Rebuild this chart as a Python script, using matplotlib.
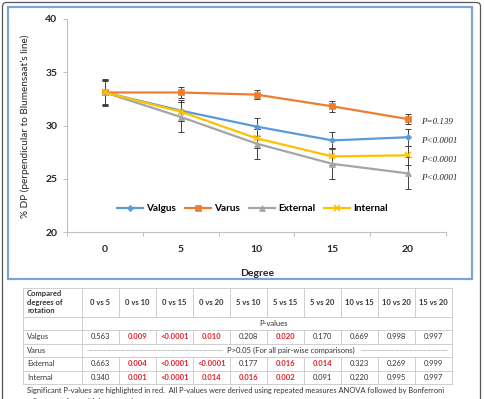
import numpy as np
import matplotlib
matplotlib.use("Agg")
import matplotlib.pyplot as plt
from matplotlib.patches import Rectangle, FancyBboxPatch

# ---- chart data ----
degrees = ["0", "5", "10", "15", "20"]
valgus = [33.1, 31.4, 29.9, 28.6, 28.9]
valgus_err = [1.2, 1.0, 0.85, 0.8, 0.8]
varus = [33.1, 33.1, 32.9, 31.8, 30.6]
varus_err = [1.3, 0.5, 0.45, 0.5, 0.5]
external = [33.1, 30.8, 28.3, 26.4, 25.5]
external_err = [1.2, 1.4, 1.4, 1.45, 1.5]
internal = [33.1, 31.3, 28.8, 27.1, 27.2]
internal_err = [1.1, 0.9, 0.9, 0.8, 0.9]
p_labels = ["P=0.139", "P<0.0001", "P<0.0001", "P<0.0001"]

# ---- table data ----
comparisons = ["0 vs 5", "0 vs 10", "0 vs 15", "0 vs 20", "5 vs 10",
               "5 vs 15", "5 vs 20", "10 vs 15", "10 vs 20", "15 vs 20"]
valgus_p = ["0.563", "0.009", "<0.0001", "0.010", "0.208",
            "0.020", "0.170", "0.669", "0.998", "0.997"]
external_p = ["0.663", "0.004", "<0.0001", "<0.0001", "0.177",
              "0.016", "0.014", "0.323", "0.269", "0.999"]
internal_p = ["0.340", "0.001", "<0.0001", "0.014", "0.016",
              "0.002", "0.091", "0.220", "0.995", "0.997"]
footnote = ("Significant P-values are highlighted in red.  All P-values were derived "
            "using repeated measures ANOVA followed by Bonferroni")
footnote2 = "adjustment for multiple comparisons."

W, H = 484, 399
plt.rcParams['font.family'] = ['Lato', 'DejaVu Sans']
fig = plt.figure(figsize=(W / 100, H / 100), dpi=100)
fig.patch.set_facecolor("white")

# full-figure pixel canvas for frames, labels and the table
bg = fig.add_axes([0, 0, 1, 1])
bg.set_xlim(0, W)
bg.set_ylim(H, 0)
bg.axis("off")
bg.add_patch(FancyBboxPatch((2.5, 2.5), 478, 420, boxstyle="round,pad=0,rounding_size=4",
                            fill=False, ec="#555555", lw=0.9))
bg.add_patch(Rectangle((8, 6.5), 464, 272, fill=False, ec="#7aa6d6", lw=1.6))

# ---- chart ----
ax = fig.add_axes([67 / W, (H - 232) / H, (446 - 67) / W, (232 - 19) / H])
ax.set_zorder(2)
ax.patch.set_alpha(0)
x = np.arange(len(degrees))
series = [
    ("Valgus", valgus, valgus_err, "#5b9bd5", "D", 3.2),
    ("Varus", varus, varus_err, "#ed7d31", "s", 4.2),
    ("External", external, external_err, "#a5a5a5", "^", 4.0),
    ("Internal", internal, internal_err, "#ffc000", "x", 4.0),
]
for name, vals, err, col, mk, ms in series:
    ax.errorbar(x, vals, yerr=err, fmt="none", ecolor="#404040", elinewidth=0.7,
                capsize=2, capthick=0.7, zorder=2)
for name, vals, err, col, mk, ms in series:
    ax.plot(x, vals, color=col, lw=1.6, marker=mk, ms=ms, mew=1.2 if mk == "x" else 0.5,
            mec=col, label=name, zorder=3)

ax.set_xlim(-0.5, len(degrees) - 0.5)
ax.set_ylim(20, 40)
ax.set_yticks([20, 25, 30, 35, 40])
ax.set_xticks(x)
ax.set_xticklabels(degrees)
ax.set_xticks(np.arange(-0.5, len(degrees)), minor=True)
ax.tick_params(axis="x", which="major", length=0, pad=9)
ax.tick_params(axis="x", which="minor", length=3, color="#bfbfbf", width=0.7)
ax.tick_params(axis="y", length=3, color="#bfbfbf", width=0.7, pad=4)
for lab in ax.get_xticklabels() + ax.get_yticklabels():
    lab.set_fontweight("bold")
    lab.set_fontsize(7.5)
    lab.set_color("#262626")
for s in ["top", "right"]:
    ax.spines[s].set_visible(False)
for s in ["left", "bottom"]:
    ax.spines[s].set_color("#bfbfbf")
    ax.spines[s].set_linewidth(0.8)

leg = ax.legend(loc="center", bbox_to_anchor=(0.49, 0.108), ncol=4, frameon=False,
                handlelength=2.6, columnspacing=0.9, handletextpad=0.3,
                prop={"weight": "bold", "size": 7.2})

bg.text(25, 126, "% DP (perpendicular to Blumensaat\u2019s line)", rotation=90,
        ha="center", va="center", fontsize=7.2, color="#262626")
bg.text(257, 273, "Degree", ha="center", va="center", fontsize=7.5,
        fontweight="bold", color="#262626")
for lab, yp in zip(p_labels, [122, 141, 160, 178]):
    bg.text(421, yp, lab, ha="left", va="center", fontsize=6.5, style="italic",
            family="Liberation Serif", color="#262626")

# ---- table ----
gc = "#c8c8c8"
col_edges = [22.7, 81.7] + [81.7 + 37.03 * (i + 1) for i in range(10)]
row_edges = [288, 316.7, 330, 343.5, 357, 370.7, 384]
tl, tr = col_edges[0], col_edges[-1]
for y in row_edges:
    bg.plot([tl, tr], [y, y], color=gc, lw=0.6)
bg.plot([tl, tl], [row_edges[0], row_edges[-1]], color=gc, lw=0.6)
bg.plot([tr, tr], [row_edges[0], row_edges[-1]], color=gc, lw=0.6)
bg.plot([col_edges[1]] * 2, [row_edges[0], row_edges[-1]], color=gc, lw=0.6)
for i, xe in enumerate(col_edges[2:-1]):
    for r0, r1 in [(0, 1), (2, 3), (4, 6)]:
        bg.plot([xe, xe], [row_edges[r0], row_edges[r1]], color=gc, lw=0.6)

fs = 5.5
tc = "#333333"
centers = [(col_edges[i] + col_edges[i + 1]) / 2 for i in range(1, 11)]
bg.text(27, (row_edges[0] + row_edges[1]) / 2, "Compared\ndegrees of\nrotation",
        ha="left", va="center", fontsize=fs, fontweight="bold", color=tc, linespacing=1.25)
for cx, c in zip(centers, comparisons):
    bg.text(cx, (row_edges[0] + row_edges[1]) / 2, c, ha="center", va="center",
            fontsize=fs, fontweight="bold", color=tc)
bg.text(273, (row_edges[1] + row_edges[2]) / 2, "P-values", ha="center", va="center",
        fontsize=fs, color=tc)


def is_sig(v):
    return v.startswith("<") or float(v) < 0.05


for ri, (name, vals) in zip([2, 4, 5], [("Valgus", valgus_p), ("External", external_p),
                                       ("Internal", internal_p)]):
    yc = (row_edges[ri] + row_edges[ri + 1]) / 2
    bg.text(27, yc, name, ha="left", va="center", fontsize=fs, color=tc)
    for cx, v in zip(centers, vals):
        sig = is_sig(v)
        bg.text(cx, yc, v, ha="center", va="center", fontsize=fs,
                color="#e0202a" if sig else tc, fontweight="bold" if sig else "normal")

yv = (row_edges[3] + row_edges[4]) / 2
bg.text(27, yv, "Varus", ha="left", va="center", fontsize=fs, color=tc)
bg.text(291, yv, "P>0.05 (For all pair-wise comparisons)", ha="center", va="center",
        fontsize=fs, color=tc)
bg.plot([87, 222], [yv, yv], color="#777777", lw=0.4, ls=(0, (1.5, 0.8)))
bg.plot([361, 447], [yv, yv], color="#777777", lw=0.4, ls=(0, (1.5, 0.8)))

bg.text(27, 390.5, footnote, ha="left", va="center", fontsize=5.4, color=tc)
bg.text(27, 401.5, footnote2, ha="left", va="center", fontsize=5.4, color=tc)

fig.savefig("out.png", dpi=100)
